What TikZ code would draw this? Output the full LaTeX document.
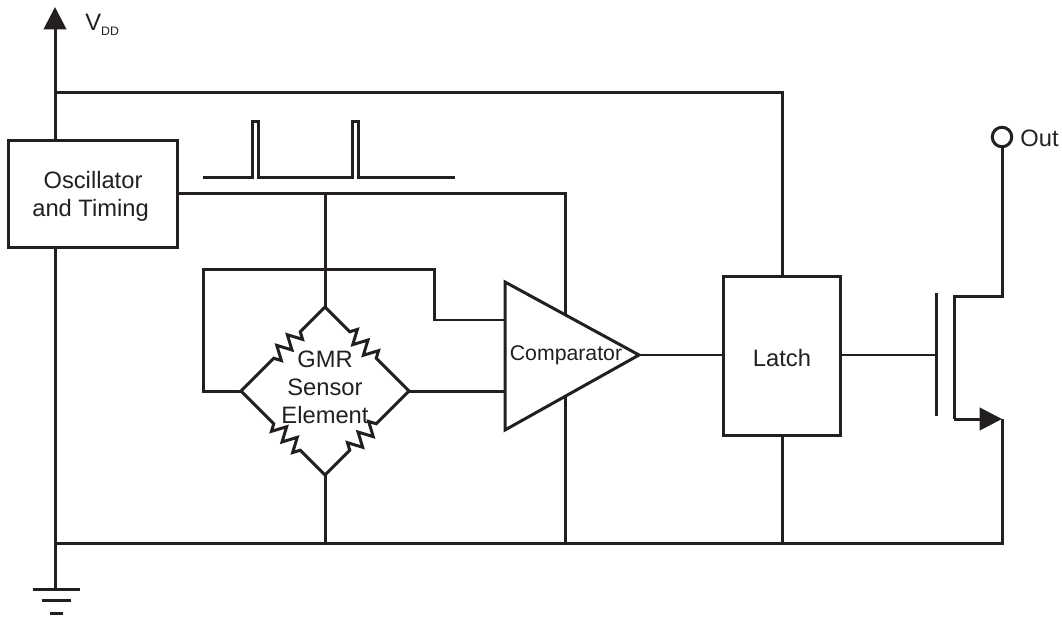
\documentclass[tikz,border=0pt]{standalone}
\usepackage{fontspec}
\setmainfont{Liberation Sans}
\usetikzlibrary{arrows.meta}
\usetikzlibrary{decorations.pathmorphing}
\definecolor{ink}{RGB}{35,31,32}

\tikzset{
  wire/.style = {draw=ink, line width=0.06cm},
  block/.style = {wire, fill=white, font=\fontsize{13.5}{16.4}\selectfont, text=ink, align=center, inner sep=0pt},
  label/.style = {font=\fontsize{13.5}{16.4}\selectfont, text=ink, align=center, inner sep=0pt},
  resistor/.style = {wire, decorate, decoration={zigzag, amplitude=0.14cm, segment length=0.3cm, pre length=0.7cm, post length=0.78cm}},
  bigtip/.style = {-{Triangle[length=0.45cm,width=0.45cm]}}
}

\begin{document}
\begin{tikzpicture}[x=0.02cm,y=-0.02cm]
      \useasboundingbox (0,0) rectangle (1062,618);

      % supply rail and ground
      \coordinate (vddtip) at (55,7);
      \coordinate (railtop) at (55,93);
      \coordinate (railbot) at (55,543);
      \coordinate (gnd) at (55,589);
      \coordinate (rightbot) at (1002,543);
      \coordinate (gnda) at (33,589);
      \coordinate (gndb) at (80,589);
      \coordinate (gndc) at (42,600);
      \coordinate (gndd) at (71,600);
      \coordinate (gnde) at (50,613);
      \coordinate (gndf) at (63,613);

      \draw[wire,bigtip] (railtop) -- (vddtip);
      \draw[wire] (railtop) -- (gnd);
      \draw[wire] (gnda) -- (gndb);
      \draw[wire] (gndc) -- (gndd);
      \draw[wire] (gnde) -- (gndf);

      \node[label, anchor=west] (vdd) at (85,25) {V\raisebox{-2.5pt}{\fontsize{7}{8}\selectfont DD}};

      % blocks
      \node[block, minimum width=3.4cm, minimum height=2.16cm] (osc) at (93,194) {\rule{0pt}{12.5pt}Oscillator\\and Timing\kern 2.8pt};
      \node[block, minimum width=2.36cm, minimum height=3.2cm] (latch) at (782,356) {\rule{0pt}{12pt}Latch};

      \draw[wire] (railtop) -| (latch.north);
      \draw[wire] (latch.south) -- (latch.south |- railbot);

      % timing pulses
      \coordinate (pulsea) at (203,178);
      \coordinate (pulseb) at (252,122);
      \coordinate (pulsec) at (258,178);
      \coordinate (pulsed) at (352,122);
      \coordinate (pulsee) at (358,178);
      \coordinate (pulsef) at (455,178);
      \draw[wire] (pulsea) -| (pulseb) -| (pulsec) -| (pulsed) -| (pulsee) -- (pulsef);

      % bridge
      \coordinate (brtop) at (325,307);
      \coordinate (brleft) at (241,391);
      \coordinate (brright) at (409,391);
      \coordinate (brbot) at (325,475);
      \coordinate (oscout) at (178,194);
      \coordinate (oscend) at (565,194);
      \coordinate (fba) at (203,270);
      \coordinate (fbb) at (434,270);
      \coordinate (cmpin) at (505,320);
      \coordinate (cmpinb) at (505,391);

      \draw[wire] (oscout) -- (oscend) -- (oscend |- railbot);
      \draw[wire] (brtop) -- (brtop |- oscout);
      \draw[wire] (brbot) -- (brbot |- railbot);
      \draw[wire] (brleft) -| (fba) -- (fbb) |- (cmpin);
      \draw[wire] (brright) -- (cmpinb);

      \draw[resistor] (brtop) -- (brleft);
      \draw[resistor] (brtop) -- (brright);
      \draw[resistor] (brbot) -- (brleft);
      \draw[resistor] (brbot) -- (brright);

      \node[label] (gmr) at (325,387) {GMR\\[-0.4pt]Sensor\\[-0.4pt]Element};

      % comparator
      \coordinate (cmpa) at (505,282);
      \coordinate (cmpb) at (505,430);
      \coordinate (cmpc) at (639,355);
      \draw[wire, fill=white] (cmpa) -- (cmpb) -- (cmpc) -- cycle;
      \node[label, font=\fontsize{12.1}{14}\selectfont] (cmp) at (566,355) {Comparator};
      \draw[wire] (cmpc) -- (latch.west |- cmpc);

      % output transistor
      \coordinate (gatein) at (936,355);
      \coordinate (gatea) at (936,293);
      \coordinate (gateb) at (936,416);
      \coordinate (chana) at (954,297);
      \coordinate (chanb) at (954,419);
      \coordinate (drain) at (1002,297);
      \coordinate (source) at (1002,419);

      \node[wire, circle, inner sep=0pt, minimum size=0.39cm] (outpin) at (1002,137) {};
      \node[label, anchor=west] (outtext) at (1020,138) {Out};

      \draw[wire] (latch.east |- gatein) -- (gatein);
      \draw[wire] (gatea) -- (gateb);
      \draw[wire] (outpin) -- (drain) -- (chana) -- (chanb);
      \draw[wire,bigtip] (chanb) -- (source);
      \draw[wire] (railbot) -- (rightbot) -- (source);

\end{tikzpicture}
\end{document}
